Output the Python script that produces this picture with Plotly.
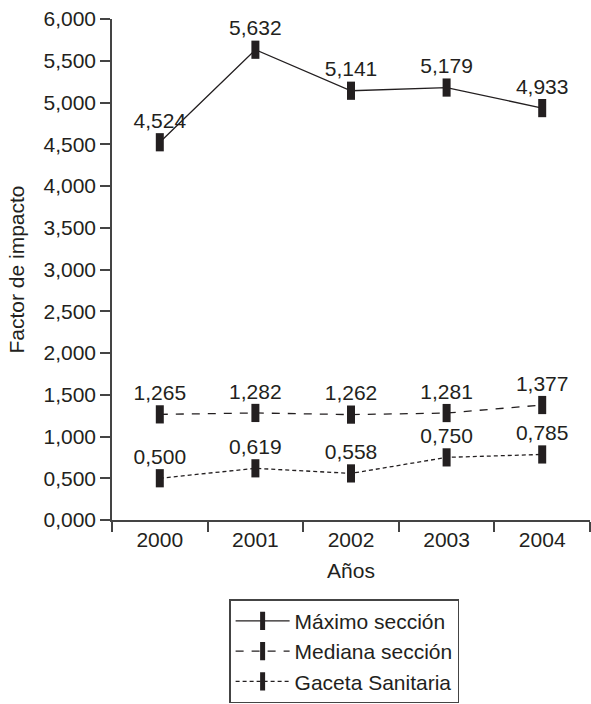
import plotly.graph_objects as go

years = ["2000", "2001", "2002", "2003", "2004"]
maximo = [4.524, 5.632, 5.141, 5.179, 4.933]
mediana = [1.265, 1.282, 1.262, 1.281, 1.377]
gaceta = [0.500, 0.619, 0.558, 0.750, 0.785]
y_ticks = [0, 0.5, 1, 1.5, 2, 2.5, 3, 3.5, 4, 4.5, 5, 5.5, 6]

INK = "#231f20"
AXIS = "#444444"
FONT = "Liberation Sans, Arial, sans-serif"
FS = 21

def fmt(v):
    return f"{v:.3f}".replace(".", ",")

def trace(name, vals, dash):
    return go.Scatter(
        x=years, y=vals, name=name,
        mode="lines+markers+text",
        line=dict(color=INK, width=1.3, dash=dash),
        marker=dict(symbol="line-ns-open", size=13,
                    line=dict(color=INK, width=8), color=INK),
        text=[fmt(v) for v in vals],
        textposition="top center",
        textfont=dict(family=FONT, size=FS, color=INK),
        cliponaxis=False,
    )

fig = go.Figure()
fig.add_trace(trace("Máximo sección", maximo, "solid"))
fig.add_trace(trace("Mediana sección", mediana, "8px,8px"))
fig.add_trace(trace("Gaceta Sanitaria", gaceta, "4px,3px"))

fig.update_layout(
    width=591, height=704,
    margin=dict(l=112, r=1, t=19, b=172),
    paper_bgcolor="white", plot_bgcolor="white",
    font=dict(family=FONT, size=FS, color=INK),
    separators=",.",
    showlegend=True,
    legend=dict(
        x=0.245, y=-0.158, xanchor="left", yanchor="top",
        bordercolor=AXIS, borderwidth=1.5,
        font=dict(family=FONT, size=FS, color=INK),
        tracegroupgap=0, itemwidth=54,
    ),
    xaxis=dict(
        type="category", range=[-0.5, 4.5], automargin=False,
        tickson="boundaries", ticks="outside", ticklen=10,
        tickcolor=AXIS, tickwidth=1.5,
        showline=True, linecolor=AXIS, linewidth=1.5,
        showgrid=False, zeroline=False,
        tickfont=dict(family=FONT, size=FS, color=INK),
        title=dict(text="Años", standoff=13,
                   font=dict(family=FONT, size=FS, color=INK)),
    ),
    yaxis=dict(
        range=[0, 6], tickvals=y_ticks, tickformat=".3f", automargin=False,
        ticks="outside", ticklen=10, tickcolor=AXIS, tickwidth=1.5,
        showline=True, linecolor=AXIS, linewidth=1.5,
        showgrid=False, zeroline=False,
        tickfont=dict(family=FONT, size=FS, color=INK),
        title=dict(text="Factor de impacto", standoff=13,
                   font=dict(family=FONT, size=FS, color=INK)),
    ),
)

fig.write_html(
    "out.html",
    config={"displayModeBar": False},
    post_script=(
        "document.documentElement.style.margin='0';"
        "document.documentElement.style.overflow='hidden';"
        "document.body.style.margin='0';"
        "document.body.style.overflow='hidden';"
        "document.body.style.height='704px';"
    ),
)
